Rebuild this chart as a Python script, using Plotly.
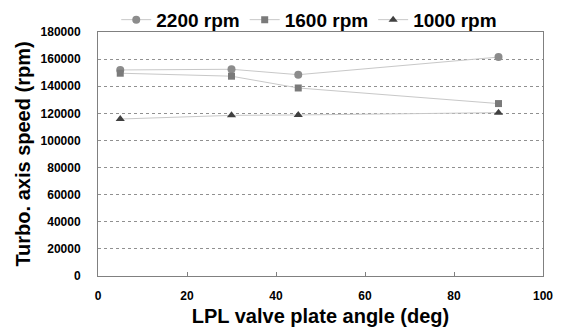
import plotly.graph_objects as go

angle = [5, 30, 45, 90]
rpm2200 = [152000, 152500, 148500, 161500]
rpm1600 = [149600, 147400, 138700, 127200]
rpm1000 = [115800, 118500, 118800, 120500]

x_ticks = [0, 20, 40, 60, 80, 100]
y_ticks = [0, 20000, 40000, 60000, 80000, 100000, 120000, 140000, 160000, 180000]

fig = go.Figure()
fig.add_trace(go.Scatter(x=angle, y=rpm2200, name="2200 rpm", mode="lines+markers",
                         line=dict(color="#c8c8c8", width=1),
                         marker=dict(symbol="circle", size=8, color="#8c8c8c")))
fig.add_trace(go.Scatter(x=angle, y=rpm1600, name="1600 rpm", mode="lines+markers",
                         line=dict(color="#c8c8c8", width=1),
                         marker=dict(symbol="square", size=7, color="#7a7a7a")))
fig.add_trace(go.Scatter(x=angle, y=rpm1000, name="1000 rpm", mode="lines+markers",
                         line=dict(color="#c8c8c8", width=1),
                         marker=dict(symbol="triangle-up", size=8, color="#404040")))

font = "Liberation Sans, Arial, sans-serif"
fig.update_layout(
    width=564, height=328,
    margin=dict(l=98, r=21, t=32, b=52, autoexpand=False),
    paper_bgcolor="white", plot_bgcolor="white",
    font=dict(family=font, color="black"),
    showlegend=True,
    legend=dict(orientation="h", x=0.041, xanchor="left", y=1.05, yanchor="middle",
                font=dict(size=19, family=font, weight="bold"),
                itemwidth=30, tracegroupgap=0, bgcolor="rgba(0,0,0,0)"),
    xaxis=dict(range=[0, 100], tickvals=x_ticks, ticks="inside", ticklen=4,
               tickcolor="#808080", showline=True, linecolor="#808080", linewidth=1,
               mirror=True, showgrid=False, zeroline=False, automargin=False,
               ticklabelstandoff=9,
               tickfont=dict(size=12, family=font, weight="bold"),
               title=dict(text="LPL valve plate angle (deg)", standoff=6,
                          font=dict(size=20, family=font, weight="bold"))),
    yaxis=dict(range=[0, 180000], tickvals=y_ticks, ticks="", showline=True,
               linecolor="#808080", linewidth=1, mirror=True, automargin=False,
               ticklabelstandoff=14,
               showgrid=True, gridcolor="#909090", griddash="dot", gridwidth=1,
               zeroline=False, tickformat="d",
               tickfont=dict(size=12, family=font, weight="bold"),
               title=dict(text="Turbo. axis speed (rpm)", standoff=4,
                          font=dict(size=20, family=font, weight="bold"))),
)
fig.write_html("out.html", config={"displayModeBar": False},
               post_script="document.body.style.margin='0';")
